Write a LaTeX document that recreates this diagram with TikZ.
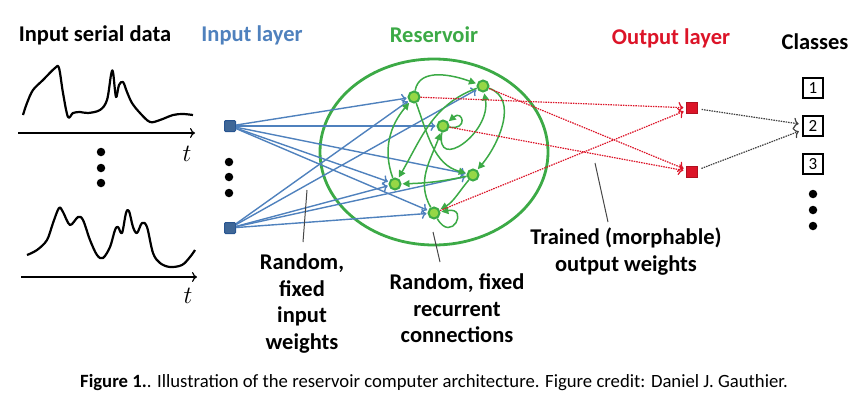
\documentclass[tikz,border=0pt]{standalone}
\usepackage{fontspec}
\setmainfont{Carlito}
\usepackage{tikz}
\usetikzlibrary{positioning, arrows.meta}

\definecolor{in_blue}{RGB}{79,129,189}
\definecolor{in_dark}{RGB}{40,85,145}
\definecolor{res_green}{RGB}{60,170,70}
\definecolor{res_light}{RGB}{150,215,70}
\definecolor{out_red}{RGB}{220,20,40}
\definecolor{lead_gray}{RGB}{70,70,70}

\begin{document}
\begin{tikzpicture}
    [
        x=1pt, y=-1pt, node distance=38pt and 20pt, on grid,
        head_text/.style={font=\fontsize{22.5}{25}\selectfont\bfseries},
        note_text/.style={font=\fontsize{22.5}{26.7}\selectfont\bfseries, align=center, anchor=north, inner sep=0pt},
        in_node/.style={rectangle, draw=in_dark, fill=in_blue!80!black, line width=1pt, rounded corners=1pt, minimum size=11pt, inner sep=0pt},
        res_node/.style={circle, draw=res_green, fill=res_light, line width=2pt, minimum size=11pt, inner sep=0pt},
        out_node/.style={rectangle, draw=out_red!80!black, fill=out_red, line width=0.8pt, minimum size=10.5pt, inner sep=0pt},
        class_box/.style={rectangle, draw=black, line width=2.8pt, minimum size=20pt, inner sep=0pt, font=\fontsize{17}{17}\selectfont},
        dot_node/.style={circle, fill=black, minimum size=8.5pt, inner sep=0pt},
        blue_edge/.style={-{To[length=5pt, width=10pt]}, line width=1.4pt, color=in_blue, shorten >=1pt},
        green_edge/.style={-{Triangle[length=7pt, width=7pt]}, line width=1.5pt, color=res_green, shorten >=1pt},
        red_edge/.style={-{To[length=5pt, width=11pt]}, line width=1.2pt, color=out_red, dash pattern=on 1.5pt off 1pt, shorten >=3pt},
        black_edge/.style={-{To[length=5pt, width=11pt]}, line width=1.2pt, color=black!75, dash pattern=on 1.5pt off 1pt, shorten >=3pt, shorten <=4pt},
        lead_line/.style={line width=1pt, color=lead_gray},
        t_text/.style={font=\fontsize{25}{25}\selectfont},
    ]
        \useasboundingbox (0,0) rectangle (864,402) ;

        \node[head_text] (t_data) at (95,35) {Input serial data} ;
        \node[head_text, text=in_blue] (t_in) at (252,35) {Input layer} ;
        \node[head_text, text=res_green] (t_res) at (434,35) {Reservoir} ;
        \node[head_text, text=out_red] (t_out) at (671,38) {Output layer} ;
        \node[head_text] (t_cls) at (815,42) {Classes} ;

        \draw[line width=2.2pt, line join=round] plot[smooth, tension=0.55] coordinates {(23,115) (27,103) (33,90) (43,80) (55,68) (59,68) (63,93) (68,117) (73,113) (80,112) (88,113) (100,110) (107,100) (111,75) (113,72) (116,97) (119,85) (123,82) (127,92) (132,103) (140,113) (150,122) (160,120) (173,115) (183,114) (193,115)} ;
        \draw[-{To[length=5pt, width=10pt]}, line width=1.2pt] (18,133) -- (195,133) ;
        \node[t_text] (t_top) at (187,154) {$t$} ;
        \draw[line width=2.2pt, line join=round] plot[smooth, tension=0.55] coordinates {(27,255) (37,250) (47,240) (53,223) (59,208) (63,212) (70,225) (78,217) (83,220) (90,240) (97,255) (103,258) (110,247) (115,230) (118,227) (122,233) (126,213) (129,211) (133,227) (137,233) (142,223) (147,227) (153,253) (160,263) (170,267) (182,265) (190,257) (195,250)} ;
        \draw[-{To[length=5pt, width=10pt]}, line width=1.2pt] (21,277) -- (197,277) ;
        \node[t_text] (t_bot) at (188,296) {$t$} ;
        \foreach \i/\y in {1/152, 2/168, 3/183}
            \node[dot_node] (ld\i) at (101,\y) {} ;

        \node[in_node] (in1) at (230,126) {} ;
        \node[in_node] (in2) at (230,228) {} ;
        \foreach \i/\y in {1/162, 2/177, 3/193}
            \node[dot_node] (id\i) at (229,\y) {} ;

        \draw[res_green, line width=2.8pt] (434,152) ellipse [x radius=114pt, y radius=93pt] ;
        \node[res_node] (r1) at (414,97) {} ;
        \node[res_node] (r2) at (483,86) {} ;
        \node[res_node] (r3) at (443,126) {} ;
        \node[res_node] (r4) at (473,175) {} ;
        \node[res_node] (r5) at (395,184) {} ;
        \node[res_node] (r6) at (434,213) {} ;

        \node[out_node] (out1) at (692,108) {} ;
        \node[out_node] (out2) [below = 64pt of out1] {} ;

        \node[class_box] (c1) at (813,88) {1} ;
        \node[class_box] (c2) [below = of c1] {2} ;
        \node[class_box] (c3) [below = of c2] {3} ;
        \node[dot_node] (cd1) [below = 30pt of c3] {} ;
        \node[dot_node] (cd2) [below = 16pt of cd1] {} ;
        \node[dot_node] (cd3) [below = 16pt of cd2] {} ;

        \draw[blue_edge] (in1) to (r1) ;
        \draw[blue_edge] (in1) to (r3) ;
        \draw[blue_edge] (in1) to (r4) ;
        \draw[blue_edge] (in1) to (r5) ;
        \draw[blue_edge] (in1) to (r6) ;
        \draw[blue_edge] (in2) to (r1) ;
        \draw[blue_edge] (in2) to (r2) ;
        \draw[blue_edge] (in2) to (r4) ;
        \draw[blue_edge] (in2) to (r5) ;
        \draw[blue_edge] (in2) to (r6) ;

        \draw[green_edge] (r1) to[out=80, in=160] (r2) ;
        \draw[green_edge] (r2) to[out=200, in=60] (r5) ;
        \draw[green_edge] (r5) to[out=110, in=230] (r1) ;
        \draw[green_edge] (r1) to[out=-70, in=165] (r4) ;
        \draw[green_edge] (r3) to[out=-10, in=40, looseness=9] (r3) ;
        \draw[green_edge] (r3) to[out=-100, in=-80, looseness=1.8] (r2) ;
        \draw[green_edge] (r2) to[out=-20, in=50] (r4) ;
        \draw[green_edge] (r4) to[bend left=5] (r5) ;
        \draw[green_edge] (r6) to[out=120, in=250] (r3) ;
        \draw[green_edge] (r4) to[out=230, in=30] (r6) ;
        \draw[green_edge] (r6) to[out=-60, in=10, looseness=10] (r6) ;

        \draw[red_edge] (r1) to (out1) ;
        \draw[red_edge] (r6) to (out1) ;
        \draw[red_edge] (r2) to (out2) ;
        \draw[red_edge] (r3) to (out2) ;
        \draw[black_edge] (out1) to (c2) ;
        \draw[black_edge] (out2) to (c2) ;

        \node[note_text] (n_in) at (302,253.5) {Random,\\fixed\\input\\weights} ;
        \node[note_text] (n_rec) at (457,273.5) {Random, fixed\\recurrent\\connections} ;
        \node[note_text] (n_out) at (626,227.5) {Trained (morphable)\\output weights} ;
        \coordinate (lw_in_a) at (307,190) ;
        \coordinate (lw_in_b) at (303,242) ;
        \coordinate (lw_rec_a) at (433,232) ;
        \coordinate (lw_rec_b) at (440,262) ;
        \coordinate (lw_out_a) at (595,163) ;
        \coordinate (lw_out_b) at (608,222) ;
        \draw[lead_line] (lw_in_a) -- (lw_in_b) ;
        \draw[lead_line] (lw_rec_a) -- (lw_rec_b) ;
        \draw[lead_line] (lw_out_a) -- (lw_out_b) ;

        \node[font=\fontsize{18.7}{21}\selectfont] (cap) at (434,383) {\textbf{Figure 1.}. Illustration of the reservoir computer architecture. Figure credit: Daniel J. Gauthier.} ;
    \end{tikzpicture}
\end{document}
